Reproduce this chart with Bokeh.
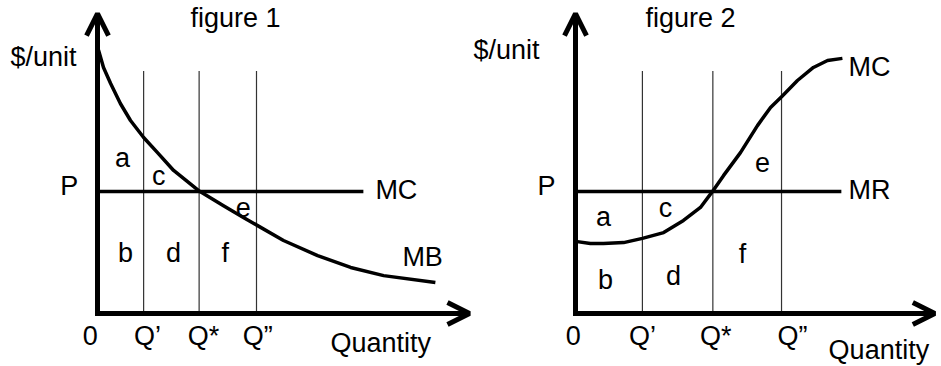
from bokeh.plotting import figure
from bokeh.models import Range1d, Arrow, OpenHead
from bokeh.core.properties import value
from bokeh.embed import file_html
from bokeh.resources import INLINE

# ---------------- data (economic units) ----------------
tick_labels = ["0", "Q\u2019", "Q*", "Q\u201d"]

# figure 1: MB falling, MC flat at P
fig1_q = [1.23, 2.71, 4.24]            # Q', Q*, Q''
fig1_price = 4.03                      # P (MC level)
fig1_mc_end = 7.09
fig1_mb_q = [0.0, 0.03, 0.16, 0.35, 0.61, 0.88, 1.23, 1.60, 2.03, 2.69, 3.36,
             3.89, 4.27, 4.96, 5.87, 6.75, 7.63, 9.01]
fig1_mb_v = [8.78, 8.68, 8.12, 7.59, 6.93, 6.37, 5.81, 5.31, 4.72, 4.06, 3.56,
             3.17, 2.90, 2.41, 1.91, 1.52, 1.25, 1.02]

# figure 2: MC S-shaped, MR flat at P
fig2_q = [1.89, 3.88, 5.82]
fig2_price = 4.03
fig2_mr_end = 7.51
fig2_mc_q = [0.0, 0.42, 0.79, 1.36, 1.89, 2.49, 3.05, 3.53, 3.87, 4.18, 4.66,
             5.14, 5.51, 5.85, 6.27, 6.72, 7.12, 7.54]
fig2_mc_v = [2.38, 2.31, 2.31, 2.34, 2.48, 2.67, 3.07, 3.50, 4.03, 4.55, 5.31,
             6.20, 6.80, 7.19, 7.69, 8.12, 8.35, 8.42]

guide_top = 8.0          # top of the vertical Q guides
axis_len_y = 9.9
axis_len_x1 = 9.92
axis_len_x2 = 10.15

# ---------------- layout ----------------
W, H = 941, 366
ORIG1_PX, ORIG2_PX, ORIGY_PX = 97, 575, 53   # origins (y measured from bottom)
SX1, SX2, SY = 37.5, 35.4, 30.3
FONT = value("Liberation Sans")
FS = value("27px")

p = figure(width=W, height=H,
           x_range=Range1d(-ORIG1_PX / SX1, (W - ORIG1_PX) / SX1),
           y_range=Range1d(-ORIGY_PX / SY, (H - ORIGY_PX) / SY),
           x_axis_type=None, y_axis_type=None,
           output_backend="svg", toolbar_location=None, min_border=0)
p.extra_x_ranges = {"f2": Range1d(-ORIG2_PX / SX2, (W - ORIG2_PX) / SX2)}
p.outline_line_color = None
p.background_fill_color = "white"
p.border_fill_color = "white"


def txt(x, y, s, rn, align="center"):
    p.text(x=[x], y=[y], text=[s], x_range_name=rn, text_font=FONT,
           text_font_size=FS, text_color="black", text_align=align,
           text_baseline="middle")


def panel(rn, qs, price, flat_end, cq, cv, xlen):
    # Q guides
    p.segment(x0=qs, y0=[0] * len(qs), x1=qs, y1=[guide_top] * len(qs),
              line_color="#333333", line_width=1.2, x_range_name=rn)
    # flat line at P
    p.line([0, flat_end], [price, price], line_color="black", line_width=3.5,
           x_range_name=rn)
    # curve
    p.line(cq, cv, line_color="black", line_width=3.5, line_join="round",
           x_range_name=rn)
    # axes
    p.line([0, 0, xlen], [axis_len_y, 0, 0], line_color="black", line_width=5,
           line_join="miter", x_range_name=rn)
    p.add_layout(Arrow(end=OpenHead(size=22, line_width=5, line_color="black"),
                       x_start=0, y_start=axis_len_y - 0.5, x_end=0,
                       y_end=axis_len_y, line_alpha=0, x_range_name=rn))
    p.add_layout(Arrow(end=OpenHead(size=22, line_width=5, line_color="black"),
                       x_start=xlen - 0.5, y_start=0, x_end=xlen, y_end=0,
                       line_alpha=0, x_range_name=rn))


panel("default", fig1_q, fig1_price, fig1_mc_end, fig1_mb_q, fig1_mb_v, axis_len_x1)
panel("f2", fig2_q, fig2_price, fig2_mr_end, fig2_mc_q, fig2_mc_v, axis_len_x2)

# ---- figure 1 texts
rn = "default"
txt(3.68, 9.74, "figure 1", rn)
txt(-2.32, 8.45, "$/unit", rn, "left")
txt(-0.75, 4.22, "P", rn)
txt(7.41, 4.06, "MC", rn, "left")
txt(8.13, 1.85, "MB", rn, "left")
for lx, ly, s in [(0.67, 5.12, "a"), (1.63, 4.55, "c"), (3.89, 3.50, "e"),
                  (0.75, 2.01, "b"), (2.03, 2.01, "d"), (3.41, 2.01, "f")]:
    txt(lx, ly, s, rn)
for lx, s in zip([-0.19, 1.33, 2.83, 4.27], tick_labels):
    txt(lx, -0.73, s, rn)
txt(6.21, -0.99, "Quantity", rn, "left")

# ---- figure 2 texts
rn = "f2"
txt(3.25, 9.74, "figure 2", rn)
txt(-2.88, 8.68, "$/unit", rn, "left")
txt(-0.82, 4.22, "P", rn)
txt(7.71, 8.12, "MC", rn, "left")
txt(7.71, 4.06, "MR", rn, "left")
for lx, ly, s in [(0.79, 3.17, "a"), (2.54, 3.47, "c"), (5.28, 4.98, "e"),
                  (0.85, 1.09, "b"), (2.77, 1.25, "d"), (4.72, 1.98, "f")]:
    txt(lx, ly, s, rn)
for lx, s in zip([-0.06, 1.89, 3.96, 6.13], tick_labels):
    txt(lx, -0.73, s, rn)
txt(7.15, -1.22, "Quantity", rn, "left")

open("out.html", "w").write(file_html(p, INLINE))
